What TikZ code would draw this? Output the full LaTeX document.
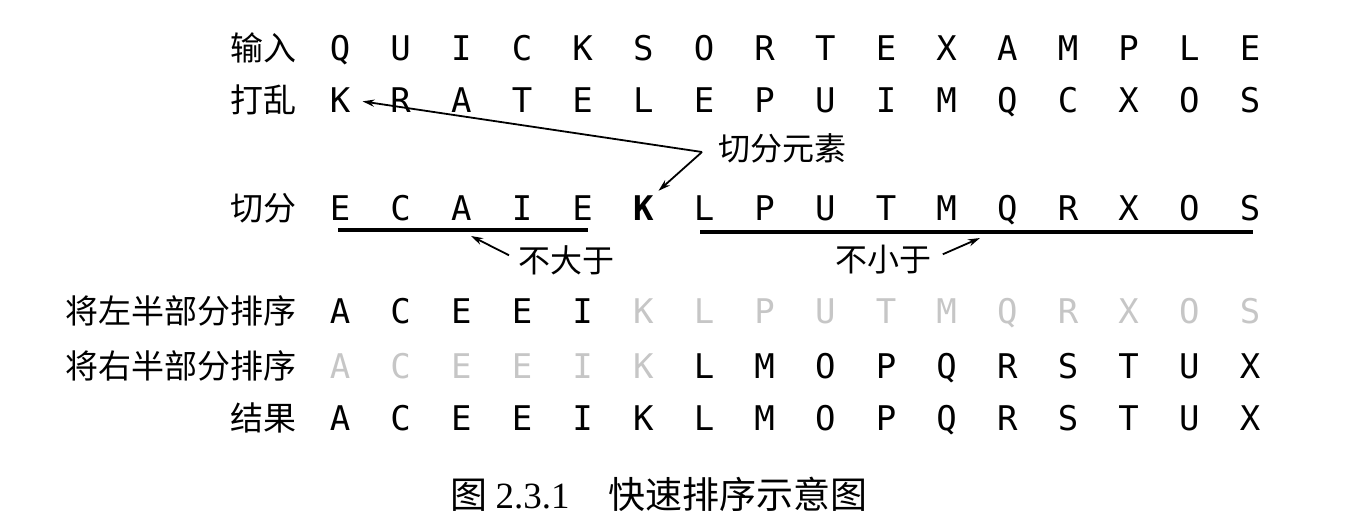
\documentclass[tikz,border=0pt]{standalone}
\usepackage{fontspec}
\usetikzlibrary{arrows.meta,calc}
\newfontfamily\letterfont{DejaVu Sans Mono}
\newfontfamily\cjk{Noto Sans CJK SC}
\newfontfamily\capnum{Liberation Serif}

\begin{document}
\begin{tikzpicture}[
    x=0.5pt, y=-0.5pt,
    letter/.style={anchor=base, inner sep=0pt, font=\letterfont\fontsize{17}{17}\selectfont},
    faded/.style={letter, text=gray!45},
    pivotletter/.style={letter, font=\letterfont\bfseries\fontsize{17}{17}\selectfont},
    rowlabel/.style={anchor=base east, inner sep=0pt, font=\cjk\fontsize{16.5}{16.5}\selectfont},
    note/.style={anchor=base west, inner sep=0pt, font=\cjk\fontsize{16}{16}\selectfont},
    caption/.style={anchor=base west, inner sep=0pt, font=\cjk\fontsize{18.5}{18.5}\selectfont},
    arrow/.style={-{Stealth[length=6pt,width=3.6pt]}, line width=0.9pt},
    bar/.style={line width=2.2pt}
]
\useasboundingbox (0,0) rectangle (1354,530);

% Row labels
\node[rowlabel] (lin)    at (297,60)  {输入};
\node[rowlabel] (lshuf)  at (297,112) {打乱};
\node[rowlabel] (lpart)  at (297,220) {切分};
\node[rowlabel] (lleft)  at (297,323) {将左半部分排序};
\node[rowlabel] (lright) at (297,378) {将右半部分排序};
\node[rowlabel] (lres)   at (297,430) {结果};

% Input and shuffled rows
\foreach \c [count=\i from 0] in {Q,U,I,C,K,S,O,R,T,E,X,A,M,P,L,E}
    \node[letter] (in\i) at (340+60.67*\i,60) {\c};
\foreach \c [count=\i from 0] in {K,R,A,T,E,L,E,P,U,I,M,Q,C,X,O,S}
    \node[letter] (sh\i) at (340+60.67*\i,112) {\c};

% Partitioned row (K is the pivot)
\foreach \c/\s [count=\i from 0] in {E/letter,C/letter,A/letter,I/letter,E/letter,K/pivotletter,
        L/letter,P/letter,U/letter,T/letter,M/letter,Q/letter,R/letter,X/letter,O/letter,S/letter}
    \node[\s] (pt\i) at (340+60.67*\i,220) {\c};

% Sorting the two halves
\foreach \c/\s [count=\i from 0] in {A/letter,C/letter,E/letter,E/letter,I/letter,K/faded,
        L/faded,P/faded,U/faded,T/faded,M/faded,Q/faded,R/faded,X/faded,O/faded,S/faded}
    \node[\s] (lf\i) at (340+60.67*\i,323) {\c};
\foreach \c/\s [count=\i from 0] in {A/faded,C/faded,E/faded,E/faded,I/faded,K/faded,
        L/letter,M/letter,O/letter,P/letter,Q/letter,R/letter,S/letter,T/letter,U/letter,X/letter}
    \node[\s] (rt\i) at (340+60.67*\i,378) {\c};

% Result row
\foreach \c [count=\i from 0] in {A,C,E,E,I,K,L,M,O,P,Q,R,S,T,U,X}
    \node[letter] (rs\i) at (340+60.67*\i,430) {\c};

% Pivot note
\node[note] (pivnote) at (718,160) {切分元素};
\coordinate (pivot) at (702,152);
\draw[arrow, shorten >=6pt] (pivot) -- (sh0.east);
\draw[arrow, shorten >=3pt] (pivot) -- (pt5.north east);

% Underlines of the two parts
\draw[bar] ($(pt0.base)+(-2,10)$) -- ($(pt4.base)+(5,10)$);
\draw[bar] ($(pt6.base)+(-4,12)$) -- ($(pt15.base)+(3,12)$);

% Notes under the parts
\node[note] (lenote) at (518,272) {不大于};
\coordinate (lebar) at (471,236);
\draw[arrow, shorten <=5pt] (lenote.west) -- (lebar);

\node[note] (genote) at (835,271) {不小于};
\coordinate (gebar) at (980,238);
\draw[arrow, shorten <=6pt] (genote.east) -- (gebar);

% Caption
\node[caption] (figno)    at (450,508) {图 {\capnum 2.3.1}};
\node[caption] (figtitle) at (608,508) {快速排序示意图};

\end{tikzpicture}
\end{document}
